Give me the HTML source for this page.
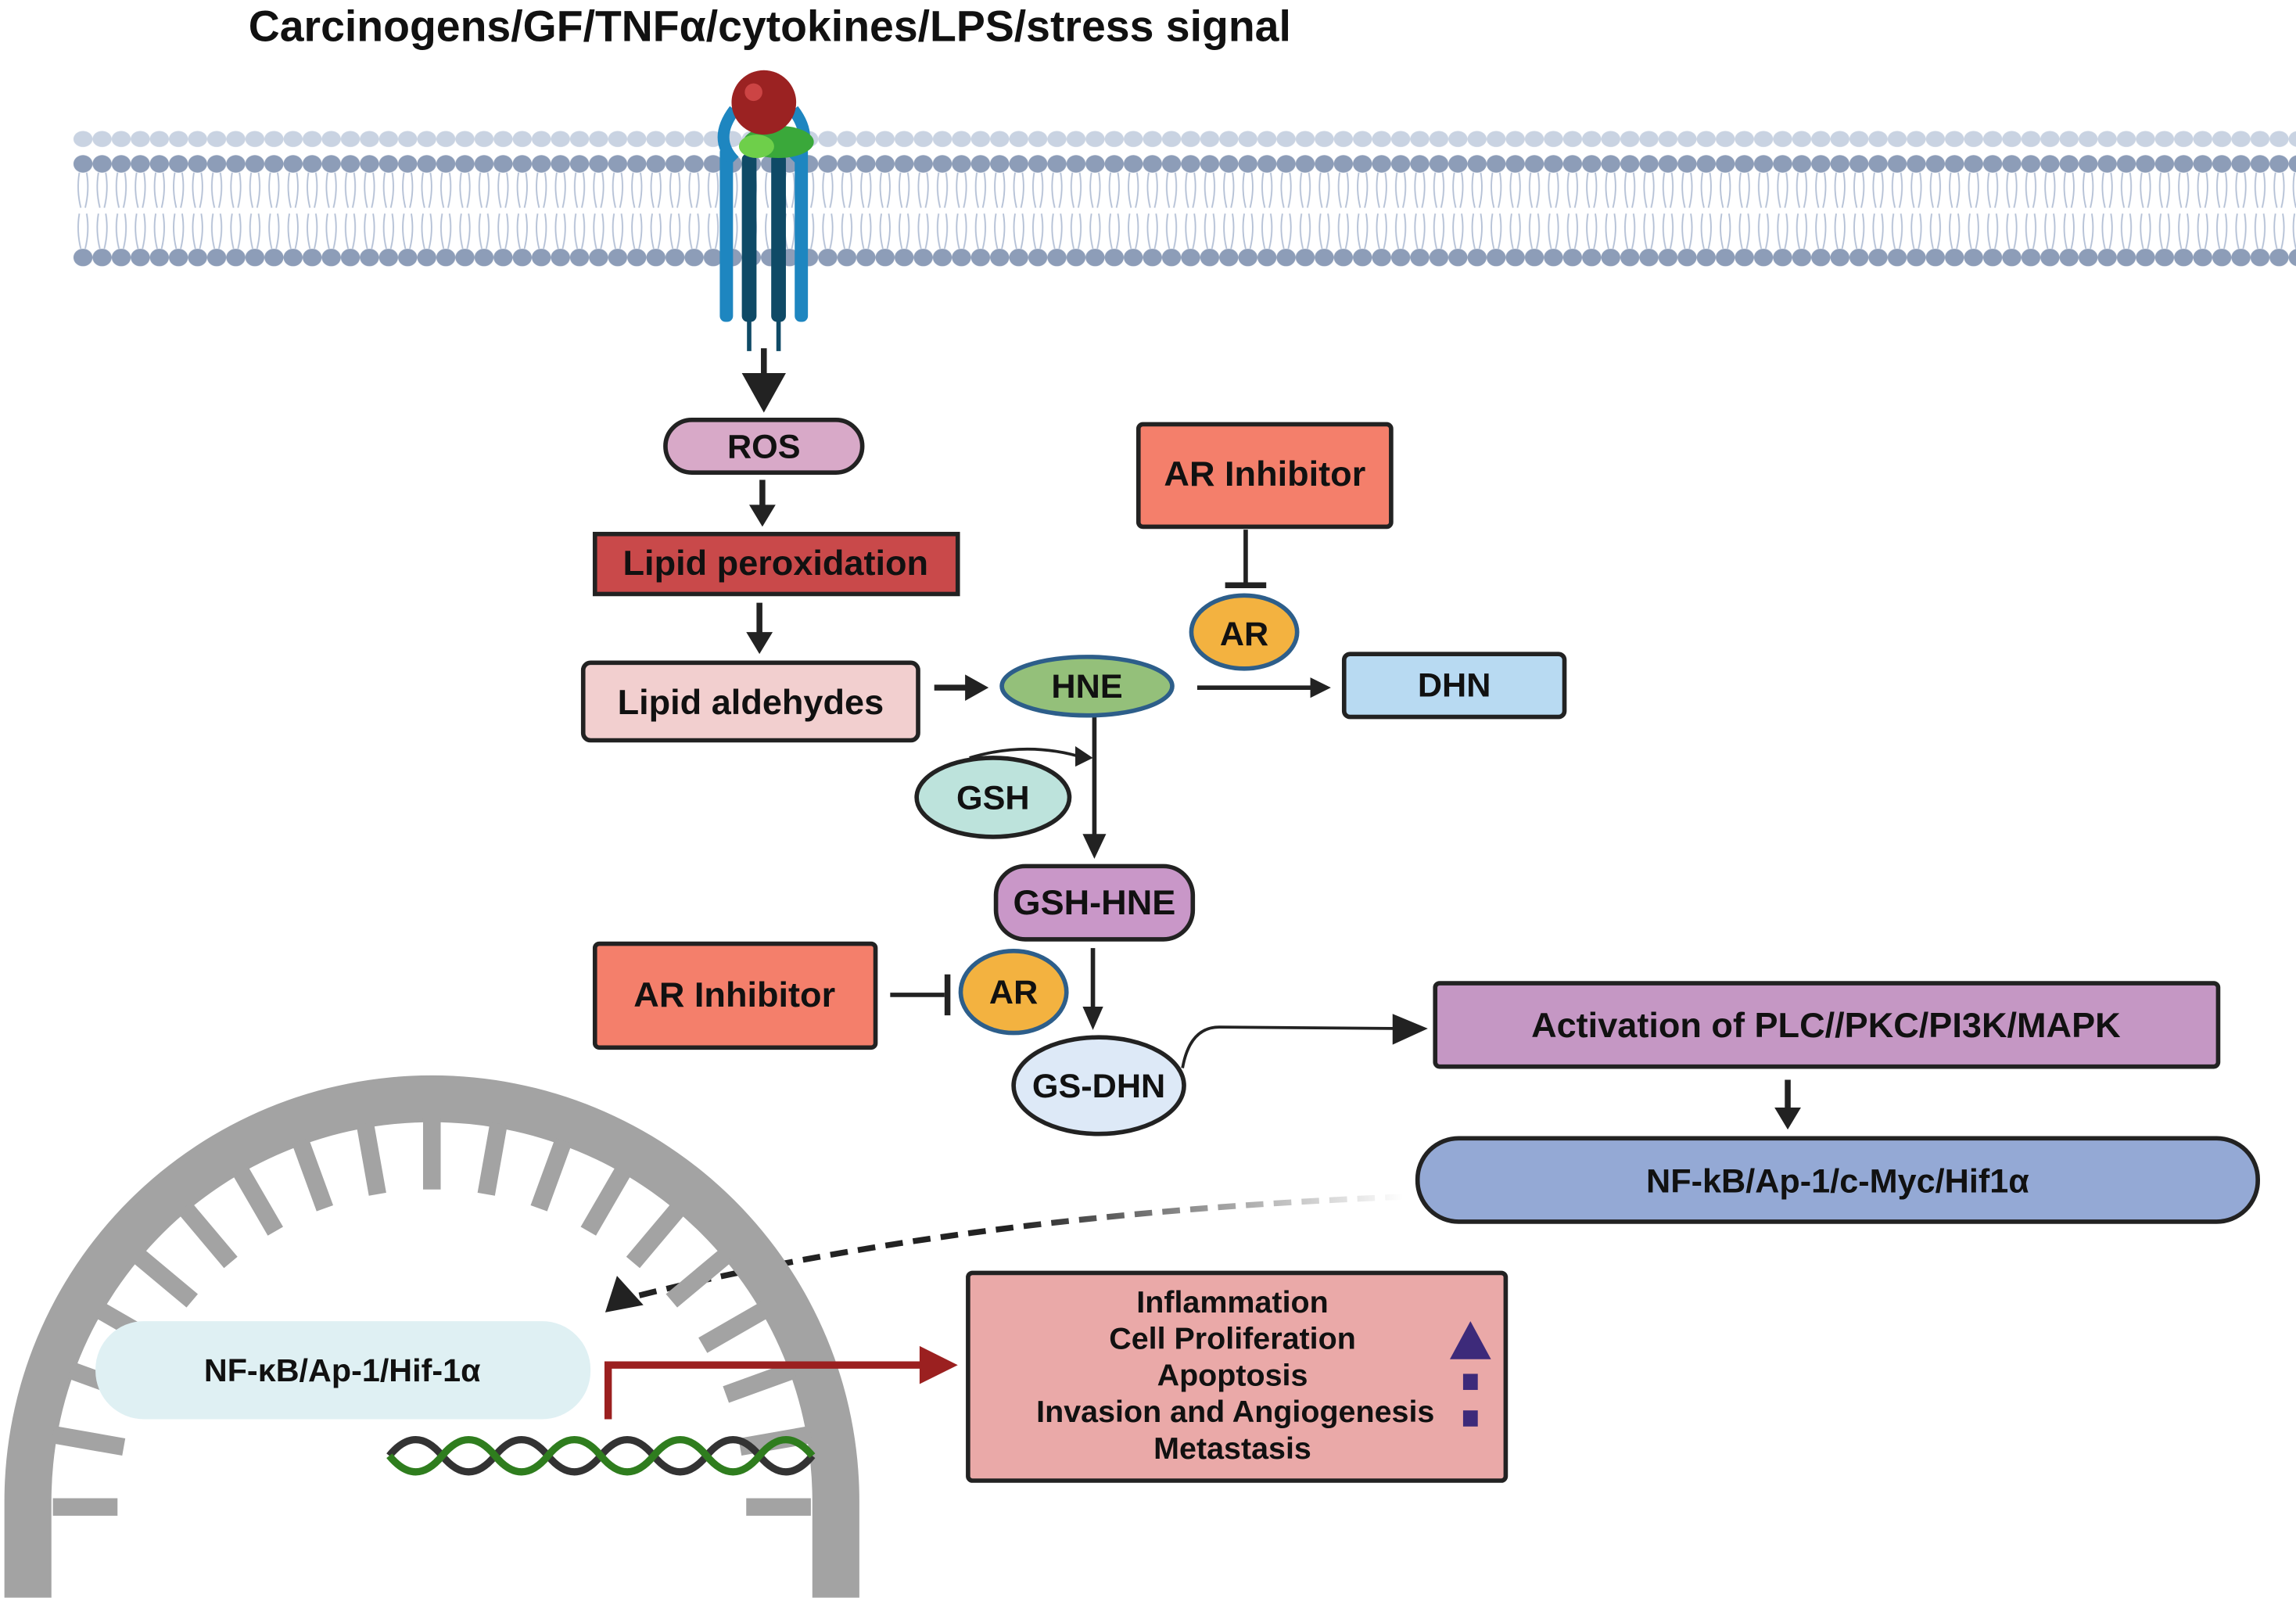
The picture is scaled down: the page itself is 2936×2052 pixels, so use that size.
<!DOCTYPE html>
<html><head><meta charset="utf-8"><style>html,body{margin:0;padding:0;background:#fff}svg{display:block}text{font-family:"Liberation Sans",sans-serif;font-weight:bold;fill:#111;text-anchor:middle}</style></head>
<body>
<svg width="2936" height="2052" viewBox="0 0 1563 1097" preserveAspectRatio="none" xmlns="http://www.w3.org/2000/svg">
<defs>
<pattern id="hb" x="50" y="0" width="13" height="200" patternUnits="userSpaceOnUse">
<ellipse cx="6.5" cy="95" rx="6.5" ry="5.5" fill="#c9d3e2"/>
<ellipse cx="6.5" cy="112" rx="6.5" ry="6" fill="#8d9db8"/>
<path d="M4 118 q-2 12 1 24 M9 118 q2 12 -1 24 M4 146 q-2 12 1 24 M9 146 q2 12 -1 24" stroke="#b5c1d6" stroke-width="1" fill="none"/>
<ellipse cx="6.5" cy="176" rx="6.5" ry="6" fill="#8d9db8"/>
</pattern>
<linearGradient id="dg" x1="1" x2="0" y1="0" y2="0"><stop offset="0" stop-color="#fff"/><stop offset="0.25" stop-color="#999"/><stop offset="0.5" stop-color="#222"/><stop offset="1" stop-color="#222"/></linearGradient>
</defs>
<text x="524" y="28" font-size="29.5">Carcinogens/GF/TNFα/cytokines/LPS/stress signal</text>
<rect x="50" y="85" width="1513" height="100" fill="url(#hb)"/>
<g>
<rect x="490" y="100" width="9" height="120" rx="4" fill="#1e86c0"/>
<rect x="541" y="100" width="9" height="120" rx="4" fill="#1e86c0"/>
<rect x="505" y="105" width="10" height="115" rx="4" fill="#0f4a66"/>
<rect x="525" y="105" width="10" height="115" rx="4" fill="#0f4a66"/>
<path d="M500 75 q-15 20 0 35 M540 75 q15 20 0 35" stroke="#1e86c0" stroke-width="8" fill="none"/>
<ellipse cx="530" cy="97" rx="24" ry="11" fill="#3aa83a"/>
<ellipse cx="515" cy="100" rx="12" ry="8" fill="#6ecf4a"/>
<circle cx="520" cy="70" r="22" fill="#9b2222"/>
<circle cx="513" cy="63" r="6" fill="#c44" />
<line x1="510" y1="215" x2="510" y2="240" stroke="#0f4a66" stroke-width="3"/>
<line x1="530" y1="215" x2="530" y2="240" stroke="#0f4a66" stroke-width="3"/>
</g>
<g stroke="#222" stroke-width="4" fill="#222">
<line x1="520" y1="238" x2="520" y2="258"/><polygon points="505,255 535,255 520,282" stroke="none"/>
<line x1="519" y1="328" x2="519" y2="348"/><polygon points="510,345 528,345 519,360" stroke="none"/>
<line x1="517" y1="412" x2="517" y2="435"/><polygon points="508,432 526,432 517,447" stroke="none"/>
<line x1="636" y1="470" x2="660" y2="470"/><polygon points="657,461 657,479 673,470" stroke="none"/>
<line x1="815" y1="470" x2="895" y2="470" stroke-width="3"/><polygon points="892,463 892,477 906,470" stroke="none"/>
<line x1="745" y1="490" x2="745" y2="572" stroke-width="3"/><polygon points="737,570 753,570 745,587" stroke="none"/>
<line x1="744" y1="648" x2="744" y2="690" stroke-width="3"/><polygon points="737,688 751,688 744,704" stroke="none"/>
<line x1="1217" y1="738" x2="1217" y2="760"/><polygon points="1208,757 1226,757 1217,772" stroke="none"/>
<line x1="848" y1="362" x2="848" y2="398" stroke-width="3"/><line x1="834" y1="400" x2="862" y2="400"/>
<line x1="606" y1="680" x2="643" y2="680" stroke-width="3"/><line x1="645" y1="666" x2="645" y2="694"/>
</g>
<path d="M660 518 q40 -12 78 0" stroke="#222" stroke-width="2" fill="none"/><polygon points="732,510 744,518 732,524" fill="#222"/>
<path d="M805 730 q5 -28 25 -28 L955 703" stroke="#222" stroke-width="2" fill="none"/><polygon points="948,693 948,714 972,703" fill="#222"/>
<g stroke="#222" stroke-width="3">
<rect x="453" y="287" width="134" height="36" rx="18" fill="#d8a9c8"/>
<rect x="405" y="365" width="247" height="41" fill="#c9494a"/>
<rect x="397" y="453" width="228" height="53" rx="5" fill="#f2cfcf"/>
<ellipse cx="740" cy="469" rx="58" ry="20" fill="#94c07a" stroke="#2d5e8a"/>
<rect x="915" y="447" width="150" height="43" rx="4" fill="#b8daf2"/>
<rect x="775" y="290" width="172" height="70" rx="3" fill="#f47f6b"/>
<ellipse cx="847" cy="432" rx="36" ry="25" fill="#f3b240" stroke="#2d5e8a"/>
<ellipse cx="676" cy="545" rx="52" ry="27" fill="#bde3dc"/>
<rect x="678" y="592" width="134" height="50" rx="20" fill="#c997c8"/>
<ellipse cx="748" cy="742" rx="58" ry="33" fill="#dde9f7"/>
<rect x="405" y="645" width="191" height="71" rx="3" fill="#f47f6b"/>
<ellipse cx="690" cy="678" rx="36" ry="28" fill="#f3b240" stroke="#2d5e8a"/>
<rect x="977" y="672" width="533" height="57" rx="3" fill="#c597c4"/>
<rect x="965" y="778" width="572" height="57" rx="28" fill="#94a9d5"/>
<rect x="659" y="870" width="366" height="142" rx="3" fill="#eaa9a8"/>
</g>
<text x="520" y="313" font-size="23">ROS</text>
<text x="528" y="393" font-size="24">Lipid peroxidation</text>
<text x="511" y="488" font-size="24">Lipid aldehydes</text>
<text x="740" y="477" font-size="23">HNE</text>
<text x="990" y="476" font-size="23">DHN</text>
<text x="861" y="332" font-size="24">AR Inhibitor</text>
<text x="847" y="441" font-size="23">AR</text>
<text x="676" y="553" font-size="23">GSH</text>
<text x="745" y="625" font-size="24">GSH-HNE</text>
<text x="748" y="750" font-size="23">GS-DHN</text>
<text x="500" y="688" font-size="24">AR Inhibitor</text>
<text x="690" y="686" font-size="23">AR</text>
<text x="1243" y="709" font-size="24">Activation of PLC//PKC/PI3K/MAPK</text>
<text x="1251" y="815" font-size="23">NF-kB/Ap-1/c-Myc/Hif1α</text>
<path d="M955 818 Q650 830 425 888" stroke="url(#dg)" stroke-width="4" stroke-dasharray="12 7" fill="none"/>
<polygon points="412,897 420,872 438,892" fill="#222"/>
<path d="M3 1092 L3 1026 A291 291 0 0 1 585 1026 L585 1092 L553 1092 L553 1026 A259 259 0 0 0 35 1026 L35 1092 Z" fill="#a3a3a3"/>
<g transform="translate(294,1026)" stroke="#a3a3a3" stroke-width="12">
<line x1="-258" y1="4" x2="-214" y2="4"/>
<line x1="213" y1="0" x2="262" y2="0" transform="rotate(-170)"/>
<line x1="213" y1="0" x2="262" y2="0" transform="rotate(-160)"/>
<line x1="213" y1="0" x2="262" y2="0" transform="rotate(-150)"/>
<line x1="213" y1="0" x2="262" y2="0" transform="rotate(-140)"/>
<line x1="213" y1="0" x2="262" y2="0" transform="rotate(-130)"/>
<line x1="213" y1="0" x2="262" y2="0" transform="rotate(-120)"/>
<line x1="213" y1="0" x2="262" y2="0" transform="rotate(-110)"/>
<line x1="213" y1="0" x2="262" y2="0" transform="rotate(-100)"/>
<line x1="213" y1="0" x2="262" y2="0" transform="rotate(-90)"/>
<line x1="213" y1="0" x2="262" y2="0" transform="rotate(-80)"/>
<line x1="213" y1="0" x2="262" y2="0" transform="rotate(-70)"/>
<line x1="213" y1="0" x2="262" y2="0" transform="rotate(-60)"/>
<line x1="213" y1="0" x2="262" y2="0" transform="rotate(-50)"/>
<line x1="213" y1="0" x2="262" y2="0" transform="rotate(-40)"/>
<line x1="213" y1="0" x2="262" y2="0" transform="rotate(-30)"/>
<line x1="213" y1="0" x2="262" y2="0" transform="rotate(-20)"/>
<line x1="213" y1="0" x2="262" y2="0" transform="rotate(-10)"/>
<line x1="214" y1="4" x2="258" y2="4"/>
</g>
<rect x="65" y="903" width="337" height="67" rx="33" fill="#dff0f3"/>
<text x="233" y="944" font-size="22">NF-κB/Ap-1/Hif-1α</text>
<path d="M265 995 q18 -22 36 0 t36 0 t36 0 t36 0 t36 0 t36 0 t36 0 t36 0" stroke="#333" stroke-width="5" fill="none"/>
<path d="M265 995 q18 22 36 0 t36 0 t36 0 t36 0 t36 0 t36 0 t36 0 t36 0" stroke="#2f7d1e" stroke-width="5" fill="none"/>
<path d="M414 970 L414 933 L630 933" stroke="#9b2020" stroke-width="5" fill="none"/>
<polygon points="626,920 626,946 652,933" fill="#9b2020"/>
<text x="839" y="897" font-size="21">Inflammation</text>
<text x="839" y="922" font-size="21">Cell Proliferation</text>
<text x="839" y="947" font-size="21">Apoptosis</text>
<text x="841" y="972" font-size="21">Invasion and Angiogenesis</text>
<text x="839" y="997" font-size="21">Metastasis</text>
<polygon points="987,929 1015,929 1001,903" fill="#3d2a7a"/>
<rect x="996" y="939" width="10" height="11" fill="#3d2a7a"/>
<rect x="996" y="964" width="10" height="11" fill="#3d2a7a"/>
</svg>
</body></html>
